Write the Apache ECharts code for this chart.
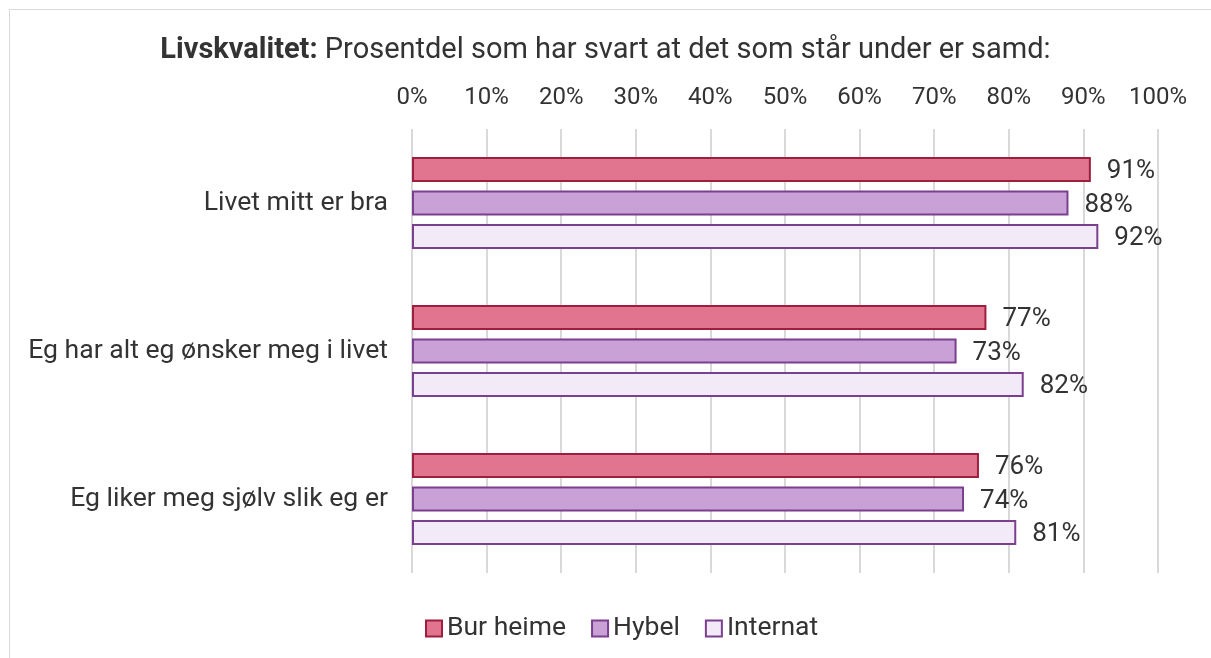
<!DOCTYPE html>
<html>
<head>
<meta charset="utf-8">
<script src="https://cdn.jsdelivr.net/npm/echarts@6/dist/echarts.min.js"></script>
<style>
  html, body { margin: 0; padding: 0; background: #fff; }
  #frame { position: absolute; left: 9px; top: 9px; width: 1220px; height: 670px; border: 1px solid #d9d9d9; box-sizing: border-box; }
  #chart { position: absolute; left: 0; top: 0; width: 1211px; height: 658px; }
</style>
</head>
<body>
<div id="frame"></div>
<div id="chart"></div>
<script>
// Data
const categories = ['Livet mitt er bra', 'Eg har alt eg ønsker meg i livet', 'Eg liker meg sjølv slik eg er']
const seriesNames = ['Bur heime', 'Hybel', 'Internat']
const burHeime = [91, 77, 76]
const hybel = [88, 73, 74]
const internat = [92, 82, 81]
const tickLabels = ['0%', '10%', '20%', '30%', '40%', '50%', '60%', '70%', '80%', '90%', '100%']

const fills = ['#e17590', '#caa1d7', '#f3eaf7']
const borders = ['#9e1f3d', '#7a3f8f', '#7a3f8f']
const values = [burHeime, hybel, internat]

const font = 'Roboto, "Noto Sans", sans-serif'
const textColor = '#333'

const chart = echarts.init(document.getElementById('chart'))

const option = {
  animation: false,
  textStyle: { fontFamily: font },
  title: {
    text: '{b|Livskvalitet:} Prosentdel som har svart at det som står under er samd:',
    left: 'center',
    top: 31,
    textStyle: {
      fontSize: 29,
      fontWeight: 'normal',
      color: '#333',
      fontFamily: font,
      rich: {
        b: { fontSize: 29, fontWeight: 'bold', color: '#333', fontFamily: font }
      }
    }
  },
  legend: {
    bottom: 11,
    left: 420,
    itemWidth: 16,
    itemHeight: 16,
    itemGap: 25,
    icon: 'rect',
    textStyle: { fontSize: 26.5, color: textColor, padding: [0, 0, 0, 0] },
    data: seriesNames
  },
  grid: {
    left: 412,
    right: 53,
    top: 129,
    bottom: 85
  },
  xAxis: {
    type: 'value',
    position: 'top',
    min: 0,
    max: 100,
    interval: 10,
    axisLine: { show: false },
    axisTick: { show: false },
    axisLabel: {
      fontSize: 24,
      color: textColor,
      margin: 19,
      formatter: (v) => tickLabels[Math.round(v / 10)]
    },
    splitLine: { lineStyle: { color: '#d9d9d9', width: 2 } }
  },
  yAxis: {
    type: 'category',
    inverse: true,
    data: categories,
    axisLine: { show: false },
    axisTick: { show: false },
    axisLabel: { fontSize: 26.6, color: textColor, margin: 24 }
  },
  series: seriesNames.map((name, i) => ({
    name: name,
    type: 'bar',
    data: values[i],
    barWidth: 25,
    barGap: '34%',
    itemStyle: { color: fills[i], borderColor: borders[i], borderWidth: 2 },
    label: {
      show: true,
      position: 'right',
      distance: 16,
      fontSize: 26,
      color: textColor,
      offset: [0, 2],
      formatter: '{c}%'
    }
  }))
}

chart.setOption(option)
</script>
</body>
</html>
